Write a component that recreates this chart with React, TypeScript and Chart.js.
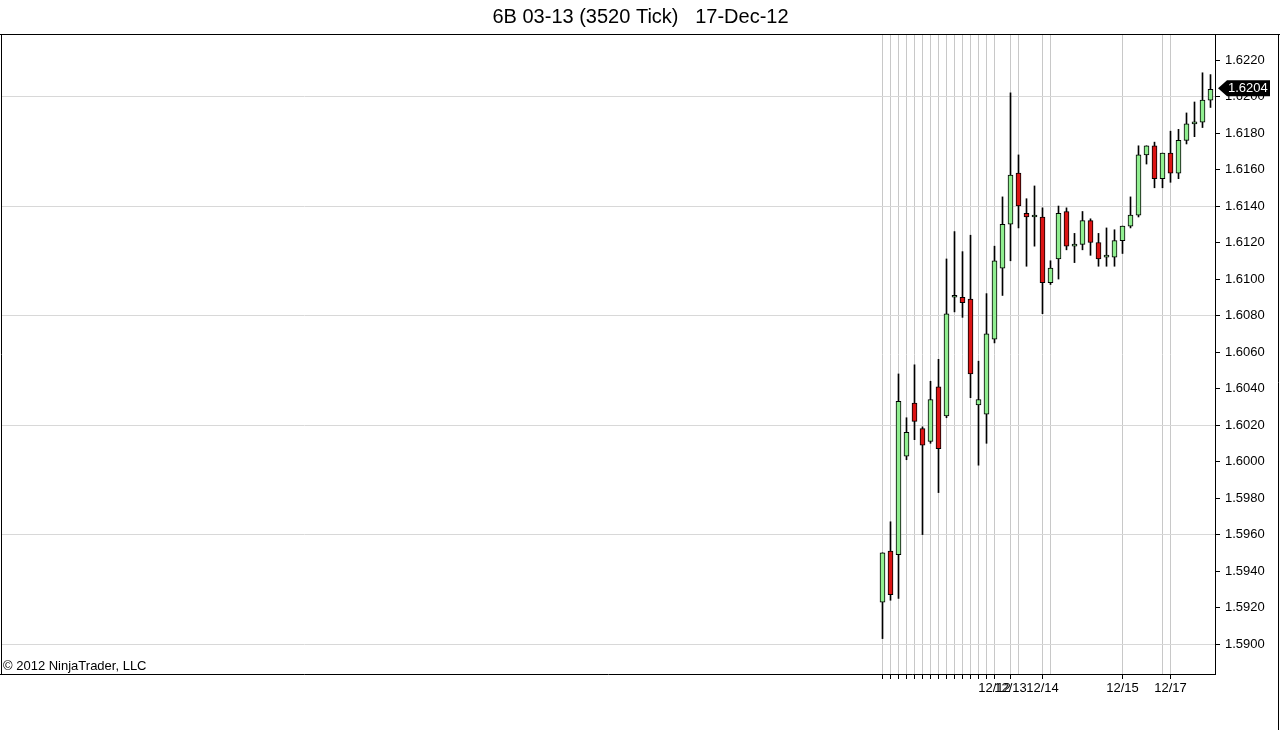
import React, { useEffect, useRef } from "react";
import { Chart, registerables } from "chart.js";

Chart.register(...registerables);

const TITLE = "6B 03-13 (3520 Tick)   17-Dec-12";
const COPYRIGHT = "\u00A9 2012 NinjaTrader, LLC";
const FONT = "'Liberation Sans', Arial, sans-serif";

const OPENS = [
  1.5923, 1.5951, 1.5949, 1.6003, 1.6032, 1.6018, 1.6011, 1.6041, 1.6025, 1.6090,
  1.6090, 1.6089, 1.6031, 1.6026, 1.6067, 1.6106, 1.6130, 1.6158, 1.6136, 1.6134,
  1.6134, 1.6098, 1.6111, 1.6137, 1.6118, 1.6119, 1.6132, 1.6120, 1.6112, 1.6112,
  1.6121, 1.6129, 1.6135, 1.6168, 1.6173, 1.6155, 1.6169, 1.6158, 1.6176, 1.6185,
  1.6186, 1.6198,
];
const HIGHS = [
  1.5950, 1.5967, 1.6048, 1.6024, 1.6053, 1.6019, 1.6044, 1.6056, 1.6111, 1.6126,
  1.6115, 1.6124, 1.6055, 1.6092, 1.6118, 1.6145, 1.6202, 1.6168, 1.6144, 1.6151,
  1.6139, 1.6110, 1.6140, 1.6139, 1.6125, 1.6137, 1.6133, 1.6125, 1.6128, 1.6127,
  1.6129, 1.6145, 1.6173, 1.6173, 1.6175, 1.6169, 1.6181, 1.6182, 1.6191, 1.6197,
  1.6213, 1.6212,
];
const LOWS = [
  1.5903, 1.5924, 1.5925, 1.6001, 1.6012, 1.5960, 1.6010, 1.5983, 1.6024, 1.6082,
  1.6079, 1.6035, 1.5998, 1.6010, 1.6065, 1.6091, 1.6110, 1.6128, 1.6107, 1.6118,
  1.6081, 1.6097, 1.6100, 1.6116, 1.6109, 1.6116, 1.6113, 1.6107, 1.6107, 1.6107,
  1.6114, 1.6128, 1.6134, 1.6163, 1.6150, 1.6150, 1.6153, 1.6155, 1.6174, 1.6178,
  1.6183, 1.6194,
];
const CLOSES = [
  1.5950, 1.5927, 1.6033, 1.6016, 1.6022, 1.6009, 1.6034, 1.6007, 1.6081, 1.6091,
  1.6087, 1.6048, 1.6034, 1.6070, 1.6110, 1.6130, 1.6157, 1.6140, 1.6134, 1.6134,
  1.6098, 1.6106, 1.6136, 1.6118, 1.6119, 1.6132, 1.6120, 1.6111, 1.6112, 1.6121,
  1.6129, 1.6135, 1.6168, 1.6173, 1.6155, 1.6169, 1.6158, 1.6176, 1.6185, 1.6186,
  1.6198, 1.6204,
];

const Y_TICKS = [
  1.5900, 1.5920, 1.5940, 1.5960, 1.5980, 1.6000, 1.6020, 1.6040, 1.6060,
  1.6080, 1.6100, 1.6120, 1.6140, 1.6160, 1.6180, 1.6200, 1.6220,
];
const Y_GRID_VALUES = [1.5900, 1.5960, 1.6020, 1.6080, 1.6140, 1.6200];

// bar indices that carry a tick mark on the time axis
const X_TICK_BARS = [0, 1, 2, 3, 4, 5, 6, 7, 8, 9, 10, 11, 12, 13, 14, 16, 20, 30, 36];
// bar indices with only a vertical grid line
const X_GRID_ONLY_BARS = [17, 21, 35];
const DATE_LABEL_BARS = [14, 16, 20, 30, 36];
const DATE_LABELS = ["12/12", "12/13", "12/14", "12/15", "12/17"];

const X_MIN = -110.1875;
const X_MAX = 41.5625;
const Y_MIN = 1.58836;
const Y_MAX = 1.62337;

const GREEN = "#90EE90";
const RED = "#DC1414";

const framePlugin = {
  id: "frame",
  afterDraw(chart: any) {
    const { ctx, chartArea } = chart;
    const w = chart.width;
    const h = chart.height;
    ctx.save();
    ctx.strokeStyle = "#000";
    ctx.lineWidth = 1;
    ctx.beginPath();
    ctx.moveTo(0, chartArea.top - 0.5);
    ctx.lineTo(w, chartArea.top - 0.5);
    ctx.moveTo(chartArea.left + 0.5, chartArea.top - 0.5);
    ctx.lineTo(chartArea.left + 0.5, chartArea.bottom + 0.5);
    ctx.moveTo(0, chartArea.bottom + 0.5);
    ctx.lineTo(chartArea.left, chartArea.bottom + 0.5);
    ctx.moveTo(w - 1.5, chartArea.top - 0.5);
    ctx.lineTo(w - 1.5, h);
    ctx.stroke();

    // copyright text
    ctx.fillStyle = "#000";
    ctx.font = `13px ${FONT}`;
    ctx.textAlign = "left";
    ctx.textBaseline = "middle";
    ctx.fillText(COPYRIGHT, 3, chartArea.bottom - 8);

    // last price marker
    const last = CLOSES[CLOSES.length - 1];
    const y = chart.scales.y.getPixelForValue(last) - 1;
    const x0 = chartArea.right + 3;
    ctx.fillStyle = "#000";
    ctx.beginPath();
    ctx.moveTo(x0, y);
    ctx.lineTo(x0 + 9, y - 8);
    ctx.lineTo(x0 + 52, y - 8);
    ctx.lineTo(x0 + 52, y + 8);
    ctx.lineTo(x0 + 9, y + 8);
    ctx.closePath();
    ctx.fill();
    ctx.fillStyle = "#fff";
    ctx.font = `13px ${FONT}`;
    ctx.textAlign = "left";
    ctx.textBaseline = "middle";
    ctx.fillText(last.toFixed(4), x0 + 10, y + 0.5);
    ctx.restore();
  },
};

export default function App() {
  const canvasRef = useRef<HTMLCanvasElement | null>(null);

  useEffect(() => {
    const canvas = canvasRef.current;
    if (!canvas) return;
    const idx = OPENS.map((_, i) => i);
    const gridBars = [...X_TICK_BARS, ...X_GRID_ONLY_BARS].sort((a, b) => a - b);

    const chart = new Chart(canvas, {
      type: "bar",
      data: {
        datasets: [
          {
            label: "body",
            data: idx.map((i) => ({ x: i, y: [OPENS[i], CLOSES[i]] })) as any,
            backgroundColor: idx.map((i) => (CLOSES[i] >= OPENS[i] ? GREEN : RED)),
            borderColor: "#000",
            borderWidth: 1,
            borderSkipped: false,
            barThickness: 5,
            minBarLength: 2,
            grouped: false,
          } as any,
          {
            label: "wick",
            data: idx.map((i) => ({ x: i, y: [LOWS[i], HIGHS[i]] })) as any,
            backgroundColor: "#000",
            borderWidth: 0,
            barThickness: 1,
            grouped: false,
          } as any,
        ],
      },
      plugins: [framePlugin],
      options: {
        animation: false,
        responsive: false,
        maintainAspectRatio: false,
        layout: { padding: { left: 1, right: 0, top: 0, bottom: 0 } },
        plugins: {
          legend: { display: false },
          tooltip: { enabled: false },
          title: {
            display: true,
            text: TITLE,
            color: "#000",
            font: { family: FONT, size: 20, weight: "normal" },
            padding: { top: 5, bottom: 6 },
          },
        },
        scales: {
          x: {
            type: "linear",
            min: X_MIN,
            max: X_MAX,
            offset: false,
            afterBuildTicks: (s: any) => {
              s.ticks = gridBars.map((v) => ({ value: v }));
            },
            afterFit: (s: any) => {
              s.height = 56;
            },
            grid: {
              offset: false,
              color: "#c8c8c8",
              tickColor: (ctx: any) =>
                ctx.tick && X_TICK_BARS.includes(ctx.tick.value) ? "#000" : "rgba(0,0,0,0)",
              tickLength: 5,
            },
            border: { display: true, color: "#000", width: 1 },
            ticks: {
              autoSkip: false,
              maxRotation: 0,
              minRotation: 0,
              padding: 2,
              color: "#000",
              font: { family: FONT, size: 13 },
              callback: (v: any) => {
                const k = DATE_LABEL_BARS.indexOf(Number(v));
                return k >= 0 ? DATE_LABELS[k] : "";
              },
            },
          },
          y: {
            type: "linear",
            position: "right",
            min: Y_MIN,
            max: Y_MAX,
            afterBuildTicks: (s: any) => {
              s.ticks = Y_TICKS.map((v) => ({ value: v }));
            },
            afterFit: (s: any) => {
              s.width = 65;
            },
            grid: {
              color: (ctx: any) =>
                ctx.tick &&
                Y_GRID_VALUES.some((g) => Math.abs(g - ctx.tick.value) < 1e-6)
                  ? "#d8d8d8"
                  : "rgba(0,0,0,0)",
              tickColor: "#000",
              tickLength: 5,
            },
            border: { display: true, color: "#000", width: 1 },
            ticks: {
              padding: 5,
              color: "#000",
              font: { family: FONT, size: 13 },
              callback: (v: any) => Number(v).toFixed(4),
            },
          },
        },
      } as any,
    });

    return () => {
      chart.destroy();
    };
  }, []);

  return (
    <div style={{ position: "fixed", left: 0, top: 0, width: 1280, height: 730, background: "#fff" }}>
      <canvas ref={canvasRef} width={1280} height={730} style={{ width: 1280, height: 730, display: "block" }} />
    </div>
  );
}
